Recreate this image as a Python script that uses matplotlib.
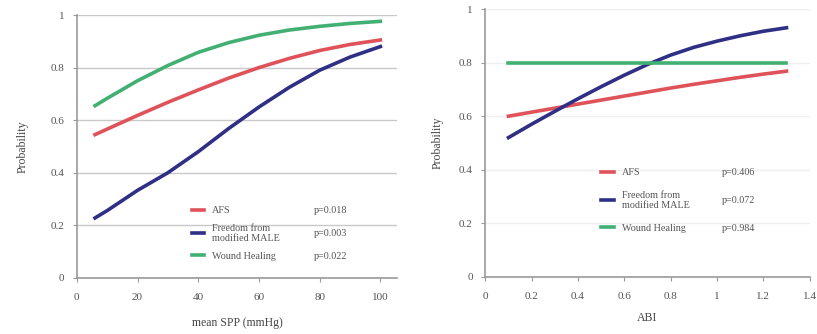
import numpy as np
import matplotlib
matplotlib.use("Agg")
import matplotlib.pyplot as plt

plt.rcParams['font.family'] = ['Liberation Serif', 'DejaVu Serif']

# left panel: probability vs mean SPP
spp = [6, 10, 20, 30, 40, 50, 60, 70, 80, 90, 100]
spp_afs = [0.545, 0.566, 0.618, 0.668, 0.715, 0.76, 0.80, 0.835, 0.865, 0.888, 0.905]
spp_male = [0.228, 0.256, 0.333, 0.40, 0.48, 0.568, 0.65, 0.725, 0.79, 0.84, 0.88]
spp_wound = [0.655, 0.683, 0.75, 0.808, 0.858, 0.895, 0.923, 0.943, 0.957, 0.968, 0.976]
spp_p = ["p=0.018", "p=0.003", "p=0.022"]

# right panel: probability vs ABI
abi = [0.1, 0.2, 0.3, 0.4, 0.5, 0.6, 0.7, 0.8, 0.9, 1.0, 1.1, 1.2, 1.3]
abi_afs = [0.60, 0.615, 0.63, 0.645, 0.66, 0.675, 0.69, 0.705, 0.719, 0.732, 0.745, 0.757, 0.768]
abi_male = [0.52, 0.57, 0.618, 0.665, 0.71, 0.753, 0.793, 0.828, 0.857, 0.88, 0.90, 0.917, 0.93]
abi_wound = [0.80] * 13
abi_p = ["p=0.406", "p=0.072", "p=0.984"]

labels = ["AFS", "Freedom from\nmodified MALE", "Wound Healing"]
c_red = "#e0525a"
c_blue = "#2f2f86"
c_green = "#42b073"
tick_col = "#555555"

fig = plt.figure(figsize=(8.17, 3.34), dpi=100)
ax1 = fig.add_axes([0.094, 0.168, 0.392, 0.787])
ax2 = fig.add_axes([0.594, 0.171, 0.397, 0.802])


def style(ax, xlim, xticks, xtl, grid_col, ypad):
    ax.set_ylim(0, 1)
    ax.set_xlim(*xlim)
    ax.set_yticks([0, 0.2, 0.4, 0.6, 0.8, 1])
    ax.set_yticklabels(["0", "0.2", "0.4", "0.6", "0.8", "1"])
    ax.set_xticks(xticks)
    ax.set_xticklabels(xtl)
    for s in ["top", "right"]:
        ax.spines[s].set_visible(False)
    for s in ["left", "bottom"]:
        ax.spines[s].set_color("#9a9a9a")
        ax.spines[s].set_linewidth(1.2)
    ax.tick_params(colors="#9a9a9a", labelcolor=tick_col, labelsize=8, length=3)
    ax.tick_params(axis="x", pad=8)
    ax.tick_params(axis="y", pad=6)
    ax.yaxis.grid(True, color=grid_col, linewidth=1.0)
    ax.set_axisbelow(True)
    ax.set_ylabel("Probability", fontsize=8.5, color="#444444", labelpad=ypad)


def legend_with_p(ax, handles, pvals, loc, px, spacing):
    leg = ax.legend(handles, labels, loc="lower left", bbox_to_anchor=loc, frameon=False,
                    fontsize=7.3, handlelength=1.2, handletextpad=0.8,
                    labelspacing=spacing, labelcolor="#555555")
    fig.canvas.draw()
    inv = ax.transAxes.inverted()
    for t, p in zip(leg.get_texts(), pvals):
        bb = t.get_window_extent()
        yc = inv.transform((0, (bb.y0 + bb.y1) / 2))[1]
        ax.text(px, yc, p, transform=ax.transAxes, fontsize=7.3, color="#555555", va="center")


lw = 2.6
h1 = ax1.plot(spp, spp_afs, color=c_red, lw=lw)[0]
h2 = ax1.plot(spp, spp_male, color=c_blue, lw=lw)[0]
h3 = ax1.plot(spp, spp_wound, color=c_green, lw=lw)[0]
style(ax1, (0, 105.5), [0, 20, 40, 60, 80, 100], ["0", "20", "40", "60", "80", "100"], "#c8c8c8", 16)
ax1.set_xlabel("mean SPP (mmHg)", fontsize=8.5, color="#444444", labelpad=11)
legend_with_p(ax1, [h1, h2, h3], spp_p, (0.33, 0.03), 0.74, 0.85)

g1 = ax2.plot(abi, abi_afs, color=c_red, lw=lw)[0]
g2 = ax2.plot(abi, abi_male, color=c_blue, lw=lw)[0]
g3 = ax2.plot(abi, abi_wound, color=c_green, lw=lw)[0]
style(ax2, (0, 1.4), [0, 0.2, 0.4, 0.6, 0.8, 1.0, 1.2, 1.4],
      ["0", "0.2", "0.4", "0.6", "0.8", "1", "1.2", "1.4"], "#efefef", 11)
ax2.set_xlabel("ABI", fontsize=8.5, color="#444444", labelpad=8)
legend_with_p(ax2, [g1, g2, g3], abi_p, (0.33, 0.13), 0.73, 1.35)

fig.savefig("out.png", dpi=100)
